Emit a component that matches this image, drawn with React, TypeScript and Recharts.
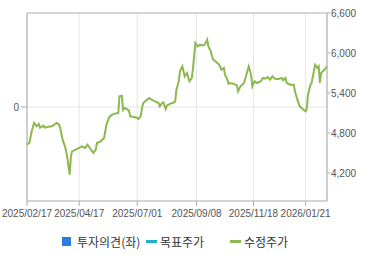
import React from 'react';
import {
  LineChart,
  Line,
  XAxis,
  YAxis,
  CartesianGrid,
  ReferenceLine,
  Legend
} from 'recharts';

// trading-day index since 2025/02/17 and adjusted close
const tradingDay = [
  0, 2, 4, 6, 8, 10, 11, 14, 15, 18, 21, 25, 27, 28, 30, 32, 33, 34, 35, 36,
  37, 38, 41, 44, 46, 49, 51, 53, 56, 58, 59, 62, 65, 66, 67, 69, 70, 72, 74, 77,
  78, 80, 81, 82, 84, 86, 87, 90, 93, 94, 96, 97, 98, 103, 105, 108, 111, 112, 114, 115,
  117, 118, 121, 124, 125, 126, 128, 129, 131, 133, 135, 137, 139, 140, 142, 144, 146, 148, 150, 152,
  153, 155, 156, 157, 159, 162, 164, 166, 167, 169, 170, 171, 174, 177, 178, 180, 183, 185, 187, 189,
  190, 192, 194, 197, 199, 201, 203, 205, 207, 209, 212, 215, 216, 218, 219, 222, 225, 226, 228, 230,
  233, 235, 236, 237, 239, 240, 243, 245, 246, 247, 248, 251, 253
];
const adjPrice = [
  4625, 4655, 4825, 4950, 4900, 4935, 4880, 4910, 4880, 4895, 4900, 4950, 4925, 4880, 4700, 4600, 4525, 4430, 4300, 4175,
  4450, 4525, 4550, 4575, 4600, 4575, 4625, 4575, 4500, 4550, 4650, 4675, 4725, 4825, 4925, 5025, 5050, 5075, 5090, 5100,
  5350, 5360, 5150, 5175, 5160, 5135, 5050, 5040, 5025, 5010, 5060, 5175, 5250, 5325, 5300, 5275, 5250, 5200, 5250, 5260,
  5160, 5210, 5240, 5260, 5275, 5450, 5575, 5725, 5800, 5650, 5700, 5575, 5625, 5775, 6150, 6100, 6125, 6110, 6130, 6200,
  6100, 6025, 5950, 5900, 5875, 5825, 5750, 5775, 5675, 5600, 5540, 5550, 5540, 5515, 5425, 5500, 5550, 5675, 5800, 5675,
  5500, 5575, 5550, 5575, 5625, 5615, 5640, 5600, 5650, 5615, 5610, 5625, 5590, 5625, 5550, 5525, 5525, 5425, 5300, 5200,
  5150, 5125, 5175, 5375, 5525, 5550, 5825, 5775, 5800, 5550, 5700, 5750, 5800
];

const dateTicks = [0, 44, 93, 143, 191, 235];
const dateLabels = ['2025/02/17', '2025/04/17', '2025/07/01', '2025/09/08', '2025/11/18', '2026/01/21'];
const priceTicks = [4200, 4800, 5400, 6000, 6600];
const opinionTicks = [0];

const legendItems = [
  { name: '투자의견(좌)', color: '#2b7be0', shape: 'square' },
  { name: '목표주가', color: '#22b0c6', shape: 'line' },
  { name: '수정주가', color: '#8cb84e', shape: 'line' }
];

const chartData = tradingDay.map((day, i) => ({ day, price: adjPrice[i] }));

const axisColor = '#aaaaaa';
const gridColor = '#e6e6e6';
const tickStyle = { fontSize: 10, fill: '#555', fontFamily: '"Liberation Sans", Arial, sans-serif' };

const ChartLegend = () => (
  <div
    style={{
      display: 'flex',
      height: 30,
      paddingLeft: 62,
      paddingTop: 3,
      boxSizing: 'border-box',
      fontFamily: '"Noto Sans CJK KR", sans-serif',
      fontSize: 12,
      lineHeight: '16px',
      color: '#333'
    }}
  >
    {legendItems.map(item => (
      <div key={item.name} style={{ width: 84, display: 'flex', alignItems: 'center' }}>
        {item.shape === 'square' ? (
          <span style={{ width: 9, height: 9, background: item.color, marginRight: 6 }} />
        ) : (
          <span style={{ width: 11, height: 3, background: item.color, marginRight: 3 }} />
        )}
        <span>{item.name}</span>
      </div>
    ))}
  </div>
);

export default function App() {
  return (
    <div style={{ position: 'absolute', left: 0, top: 0, width: 370, height: 255, background: '#fff' }}>
      <LineChart
        width={370}
        height={255}
        data={chartData}
        margin={{ top: 13, right: 0, bottom: 0, left: 0 }}
      >
        <CartesianGrid horizontal={false} stroke={gridColor} />
        <XAxis
          dataKey="day"
          type="number"
          domain={[0, 253]}
          ticks={dateTicks}
          tickFormatter={(v: number) => dateLabels[dateTicks.indexOf(v)]}
          interval={0}
          height={24}
          tickSize={5}
          tickMargin={4}
          tick={tickStyle}
          stroke={axisColor}
        />
        <YAxis
          yAxisId="left"
          type="number"
          domain={[-1, 1]}
          allowDataOverflow
          ticks={opinionTicks}
          interval={0}
          width={27}
          tick={tickStyle}
          stroke={axisColor}
        />
        <YAxis
          orientation="right"
          domain={[3780, 6600]}
          ticks={priceTicks}
          allowDataOverflow
          width={43}
          tickSize={3}
          tickMargin={1}
          tick={{ ...tickStyle, textAnchor: 'start' }}
          tickFormatter={(v: number) => v.toLocaleString('en-US')}
          stroke={axisColor}
        />
        <ReferenceLine yAxisId="left" y={0} stroke={gridColor} ifOverflow="extendDomain" />
        <ReferenceLine y={6600} stroke={axisColor} />
        <Line
          type="linear"
          dataKey="price"
          stroke="#8cb84e"
          strokeWidth={2}
          dot={false}
          isAnimationActive={false}
        />
        <Legend verticalAlign="bottom" content={() => <ChartLegend />} />
      </LineChart>
    </div>
  );
}
